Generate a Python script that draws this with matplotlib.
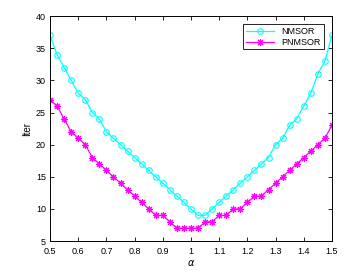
import numpy as np
import matplotlib.pyplot as plt


alpha = np.linspace(0.5, 1.5, 41)

nmsor = [37, 34, 32, 30, 28, 27, 25, 24, 22, 21, 20, 19, 18, 17, 16, 15, 14, 13, 12, 11,
         10, 9, 9, 10, 11, 12, 13, 14, 15, 16, 17, 18, 20, 21, 23, 24, 26, 28, 31, 33, 37]
pnmsor = [27, 26, 24, 22, 21, 20, 18, 17, 16, 15, 14, 13, 12, 11, 10, 9, 9, 8, 7, 7,
          7, 7, 8, 8, 9, 9, 10, 10, 11, 12, 12, 13, 14, 15, 16, 17, 18, 19, 20, 21, 23]

xticks = [0.5, 0.6, 0.7, 0.8, 0.9, 1, 1.1, 1.2, 1.3, 1.4, 1.5]
xticklabels = ["0.5", "0.6", "0.7", "0.8", "0.9", "1", "1.1", "1.2", "1.3", "1.4", "1.5"]
yticks = [5, 10, 15, 20, 25, 30, 35, 40]

plt.rcParams['font.family'] = ['Liberation Sans', 'DejaVu Sans']

fig = plt.figure(figsize=(3.55, 2.73), dpi=100)
ax = fig.add_axes([0.141, 0.117, 0.794, 0.824])

ax.plot(alpha, nmsor, color=(0, 1, 1), lw=0.9, marker='o', ms=4.0,
        mfc='none', mew=0.8, label="NMSOR")
ax.plot(alpha, pnmsor, color=(1, 0, 1), lw=0.9, marker=(8, 2, 0), ms=5.0,
        mew=0.8, label="PNMSOR")

ax.set_xlim(0.5, 1.5)
ax.set_ylim(5, 40)
ax.set_xticks(xticks)
ax.set_xticklabels(xticklabels)
ax.set_yticks(yticks)
ax.tick_params(direction='in', length=3, width=0.6, labelsize=6.5,
               top=True, right=True)
ax.tick_params(axis='x', pad=4)
ax.tick_params(axis='y', pad=3)
for s in ax.spines.values():
    s.set_linewidth(0.7)

ax.set_xlabel(r"$\alpha$", fontsize=7, labelpad=2)
ax.set_ylabel("Iter", fontsize=7, labelpad=3)

leg = ax.legend(loc='upper right', fontsize=6.5, fancybox=False, framealpha=1,
                edgecolor='black', borderpad=0.3, handlelength=3.2,
                labelspacing=0.2, borderaxespad=0.9)
leg.get_frame().set_linewidth(0.6)

fig.savefig("out.png", dpi=100)
